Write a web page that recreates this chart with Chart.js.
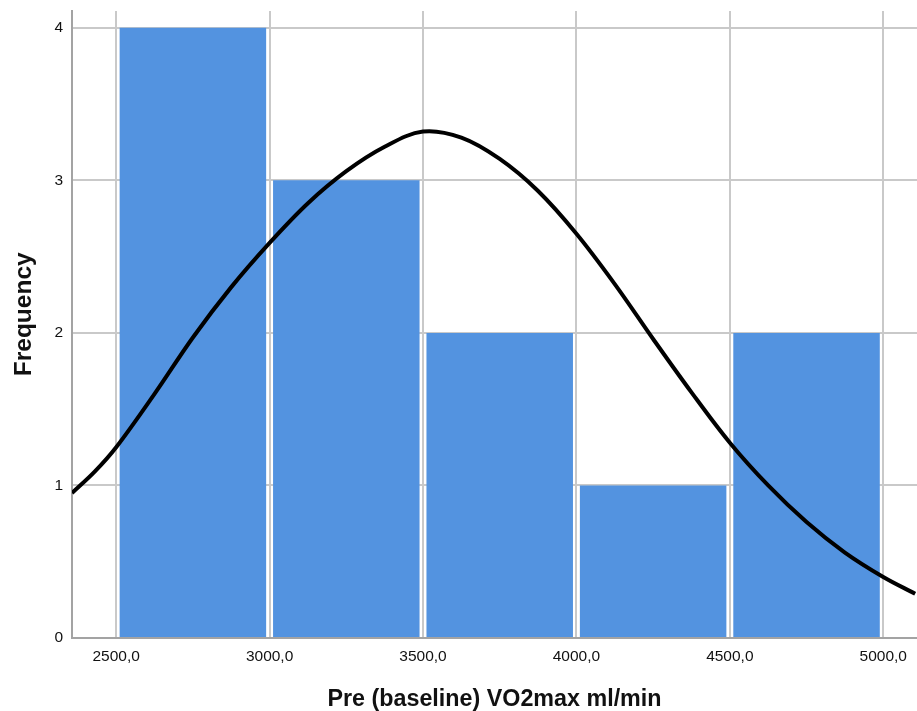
<!DOCTYPE html>
<html>
<head>
<meta charset="utf-8">
<script src="https://cdn.jsdelivr.net/npm/chart.js@4/dist/chart.umd.min.js"></script>
<style>
  body { margin: 0; background: #fff; }
  #wrap { width: 917px; height: 711px; }
</style>
</head>
<body>
<div id="wrap"><canvas id="histo"></canvas></div>
<script>
// histogram bins (centre of each 500 wide bin) and counts
const binCentres = [2750, 3250, 3750, 4250, 4750];
const binCounts = [4, 3, 2, 1, 2];

// normal curve
const curveX = [2356, 2430, 2500, 2625, 2750, 2875, 3000, 3125, 3250, 3375, 3500, 3625, 3750,
                3875, 4000, 4125, 4250, 4375, 4500, 4625, 4750, 4875, 5000, 5104];
const curveY = [0.95, 1.09, 1.25, 1.60, 1.97, 2.30, 2.59, 2.85, 3.06, 3.22, 3.32, 3.28, 3.14,
                2.93, 2.65, 2.32, 1.96, 1.61, 1.28, 1.00, 0.76, 0.56, 0.40, 0.29];

const xTicks = [2500, 3000, 3500, 4000, 4500, 5000];
const yTicks = [0, 1, 2, 3, 4];

const xTitle = 'Pre (baseline) VO2max ml/min';
const yTitle = '   Frequency';

const fam = '"Liberation Sans", Arial, sans-serif';
const gridCol = '#c9c9c9';
const axisCol = '#a3a3a3';

const ctx = document.getElementById('histo').getContext('2d');

const chart = new Chart(ctx, {
    type: 'bar',
    data: {
        datasets: [
            {
                type: 'line',
                data: curveX.map((x, i) => ({ x: x, y: curveY[i] })),
                borderColor: '#000',
                borderWidth: 4,
                pointRadius: 0,
                tension: 0.35,
                order: 0,
            },
            {
                type: 'bar',
                data: binCentres.map((x, i) => ({ x: x, y: binCounts[i] })),
                backgroundColor: '#5393e0',
                borderWidth: 0,
                categoryPercentage: 1,
                barPercentage: 0.955,
                order: 1,
            },
        ],
    },
    options: {
        responsive: true,
        maintainAspectRatio: false,
        animation: false,
        layout: { padding: { top: 11, right: 0, left: 0, bottom: 0 } },
        plugins: {
            legend: { display: false },
            tooltip: { enabled: false },
        },
        scales: {
            x: {
                type: 'linear',
                min: 2356,
                max: 5110,
                offset: false,
                grid: { color: gridCol, lineWidth: 2, drawTicks: false, offset: false },
                border: { color: axisCol, width: 2 },
                afterBuildTicks: (s) => { s.ticks = xTicks.map(v => ({ value: v })); },
                afterFit: (s) => { s.height = 73; s.paddingLeft = 0; s.paddingRight = 0; },
                ticks: {
                    padding: 9,
                    color: '#111',
                    font: { family: fam, size: 15.5 },
                    maxRotation: 0,
                    callback: (v) => v.toFixed(1).replace('.', ','),
                },
                title: {
                    display: true,
                    text: xTitle,
                    color: '#111',
                    font: { family: fam, size: 23.3, weight: 'bold', lineHeight: 1 },
                    padding: { top: 0, bottom: 0 },
                },
            },
            y: {
                min: 0,
                max: 4.11,
                grid: { color: gridCol, lineWidth: 2, drawTicks: false },
                border: { color: axisCol, width: 2 },
                afterBuildTicks: (s) => { s.ticks = yTicks.map(v => ({ value: v })); },
                afterFit: (s) => { s.width = 72; s.paddingTop = 0; s.paddingBottom = 0; },
                ticks: {
                    padding: 9,
                    color: '#111',
                    font: { family: fam, size: 15.5 },
                },
                title: {
                    display: true,
                    text: yTitle,
                    color: '#111',
                    font: { family: fam, size: 24.5, weight: 'bold', lineHeight: 1 },
                    padding: { top: 12, bottom: 0 },
                },
            },
        },
    },
});
</script>
</body>
</html>
